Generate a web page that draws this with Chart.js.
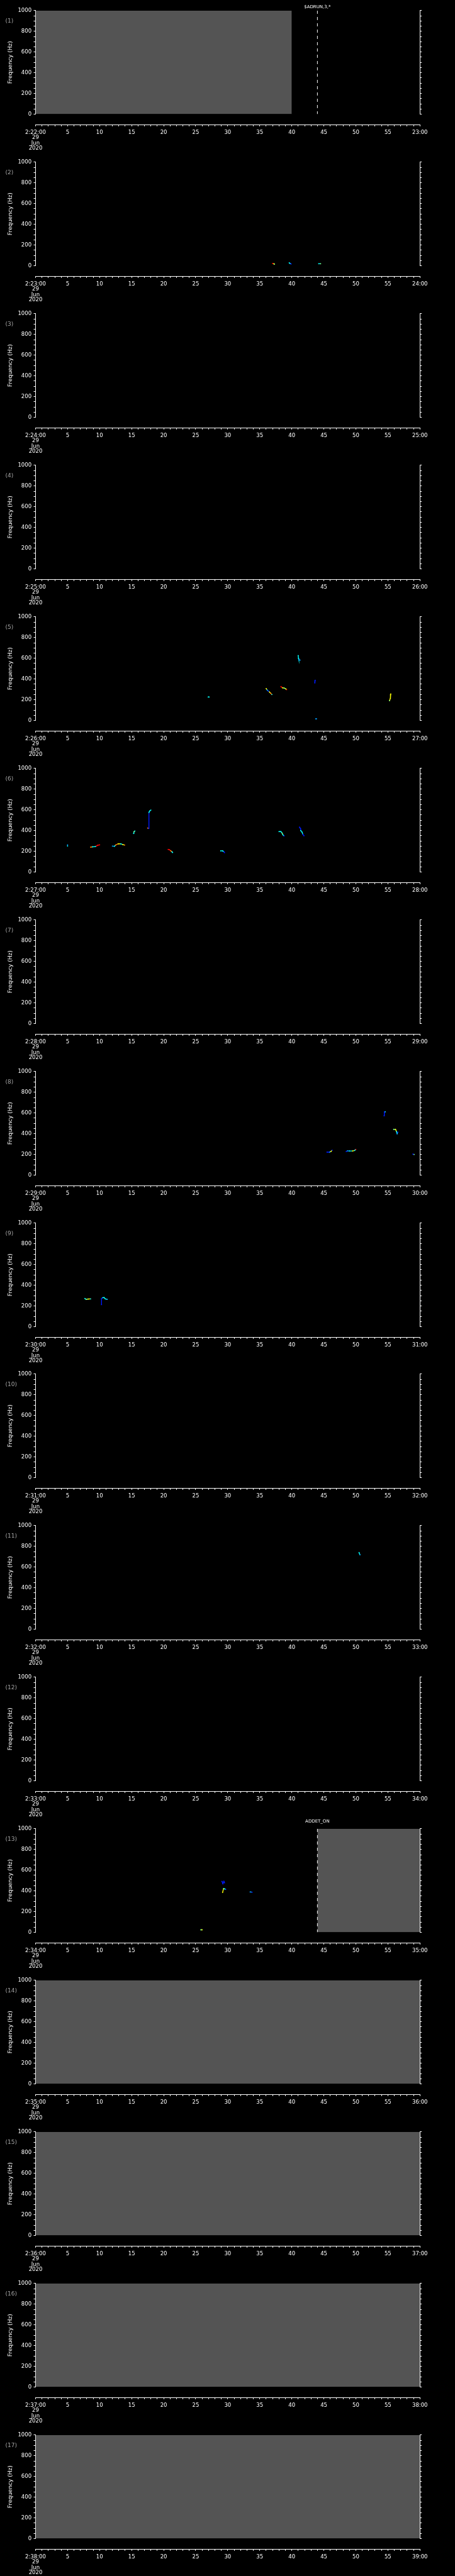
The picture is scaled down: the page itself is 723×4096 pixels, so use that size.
<!DOCTYPE html>
<html>
<head>
<meta charset="utf-8">
<script src="https://cdn.jsdelivr.net/npm/chart.js@4.4.1/dist/chart.umd.min.js"></script>
<style>
html, body { margin: 0; padding: 0; background: #000; }
#wrap { position: relative; width: 723px; height: 4096px; overflow: hidden; }
.panel { position: absolute; left: 0; width: 723px; height: 241px; }
</style>
</head>
<body>
<div id="wrap"></div>
<script>
// one panel per minute, 29 Jun 2020
const panelStarts = ['2:22:00', '2:23:00', '2:24:00', '2:25:00', '2:26:00', '2:27:00', '2:28:00', '2:29:00', '2:30:00',
                     '2:31:00', '2:32:00', '2:33:00', '2:34:00', '2:35:00', '2:36:00', '2:37:00', '2:38:00'];
const panelEnds = ['23:00', '24:00', '25:00', '26:00', '27:00', '28:00', '29:00', '30:00', '31:00',
                   '32:00', '33:00', '34:00', '35:00', '36:00', '37:00', '38:00', '39:00'];
const panelDate = ['29', 'Jun', '2020'];
const freqMin = 0;
const freqMax = 1000;

// seconds with no recording (grey)
const noData = [[0, 40], null, null, null, null, null, null, null, null,
                null, null, null, [44, 60], [0, 60], [0, 60], [0, 60], [0, 60]];

// event markers
const eventPanel = [0, 12];
const eventTime = [44, 44];
const eventText = ['$ADRUN,3,*', 'ADDET_ON'];

// detected tracks: [second, Hz, level 0..1]
const tracks = [
  [],
  [
    [[37.0, 22, 0.87], [37.2, 18, 0.62], [37.3, 15, 0.5]],
    [[39.6, 27, 0.38], [39.75, 20, 0.28], [39.9, 17, 0.15]],
    [[44.2, 19, 0.38], [44.5, 19, 0.5]]
  ],
  [],
  [],
  [
    [[26.95, 226, 0.38], [27.1, 226, 0.38]],
    [[36.0, 308, 0.62], [36.15, 295, 0.28], [36.35, 282, 0.15], [36.5, 275, 0.62], [36.7, 262, 0.75], [36.9, 250, 0.38]],
    [[38.3, 327, 0.87], [38.55, 315, 0.62], [38.8, 313, 0.5], [39.05, 305, 0.62], [39.2, 297, 0.87]],
    [[41.0, 627, 0.38], [41.05, 600, 0.38], [41.1, 585, 0.28], [41.3, 583, 0.28]],
    [[43.65, 388, 0.15], [43.6, 362, 0.15]],
    [[43.75, 15, 0.28], [43.85, 15, 0.28]],
    [[55.45, 255, 0.62], [55.4, 215, 0.62], [55.25, 190, 0.5]]
  ],
  [
    [[5.0, 262, 0.28], [5.0, 250, 0.38]],
    [[8.6, 240, 0.75], [8.9, 243, 0.38], [9.3, 245, 0.38], [9.5, 250, 0.87], [9.7, 258, 0.87], [10.0, 262, 0.87]],
    [[12.0, 250, 0.28], [12.3, 248, 0.38], [12.5, 260, 0.75], [12.9, 272, 0.62], [13.3, 272, 0.38], [13.6, 265, 0.62], [13.9, 260, 0.75]],
    [[15.3, 372, 0.38], [15.35, 388, 0.5], [15.5, 395, 0.38]],
    [[17.5, 425, 0.75], [17.65, 420, 0.15], [17.7, 575, 0.38], [17.8, 588, 0.38], [18.0, 598, 0.38]],
    [[20.7, 218, 0.87], [20.9, 215, 0.87], [21.1, 205, 0.75], [21.3, 195, 0.38], [21.4, 188, 0.38]],
    [[28.9, 204, 0.38], [29.2, 204, 0.38], [29.4, 195, 0.15], [29.5, 187, 0.15]],
    [[38.0, 390, 0.38], [38.3, 390, 0.38], [38.5, 375, 0.5], [38.6, 360, 0.38], [38.8, 348, 0.15]],
    [[41.2, 433, 0.15], [41.35, 420, 0.15], [41.4, 400, 0.38], [41.6, 385, 0.38], [41.75, 362, 0.15], [41.9, 350, 0.15]]
  ],
  [],
  [
    [[45.5, 222, 0.15], [45.9, 222, 0.28], [46.1, 228, 0.62], [46.3, 240, 0.15]],
    [[48.5, 228, 0.15], [48.7, 234, 0.28], [49.0, 233, 0.38], [49.5, 233, 0.62], [49.8, 238, 0.38], [50.0, 248, 0.87]],
    [[54.4, 573, 0.15], [54.45, 610, 0.15], [54.6, 612, 0.38]],
    [[55.9, 442, 0.5], [56.2, 442, 0.62], [56.35, 420, 0.38], [56.45, 398, 0.28], [56.55, 415, 0.15]],
    [[58.9, 203, 0.15], [59.1, 199, 0.5]]
  ],
  [
    [[7.7, 272, 0.38], [7.9, 263, 0.5], [8.2, 267, 0.62], [8.6, 268, 0.38]],
    [[10.3, 213, 0.15], [10.3, 272, 0.15], [10.5, 280, 0.38], [10.7, 281, 0.38], [10.9, 268, 0.38], [11.2, 264, 0.28]]
  ],
  [],
  [
    [[50.5, 740, 0.38], [50.65, 718, 0.28]]
  ],
  [],
  [
    [[25.8, 24, 0.5], [26.0, 24, 0.62]],
    [[29.1, 492, 0.15], [29.25, 470, 0.15], [29.4, 492, 0.15], [29.5, 478, 0.15]],
    [[29.2, 385, 0.62], [29.35, 423, 0.5], [29.5, 420, 0.38], [29.7, 414, 0.15]],
    [[33.5, 390, 0.28], [33.8, 388, 0.15]]
  ],
  [],
  [],
  [],
  []
];

const S = 723 / 1024;
const PANEL_H = 4096 / 17;
const FONT = "'DejaVu Sans', sans-serif";
const eventLift = [5.8, 12.1];

function jet(v) {
  const c = t => Math.round(255 * Math.min(1, Math.max(0, t)));
  return 'rgb(' + c(1.5 - Math.abs(4 * v - 3)) + ',' + c(1.5 - Math.abs(4 * v - 2)) + ',' + c(1.5 - Math.abs(4 * v - 1)) + ')';
}

const panelText = {
  id: 'panelText',
  afterDraw(chart, args, opts) {
    const ctx = chart.ctx;
    const i = opts.index;
    ctx.save();
    ctx.fillStyle = '#a4a4a4';
    ctx.font = '9px ' + FONT;
    ctx.textAlign = 'left';
    ctx.textBaseline = 'middle';
    ctx.fillText('(' + (i + 1) + ')', 12 * S, 47 * S);
    ctx.fillStyle = '#fff';
    ctx.font = '7px ' + FONT;
    ctx.textAlign = 'center';
    eventPanel.forEach((p, k) => {
      if (p !== i) return;
      const x = chart.scales.x.getPixelForValue(eventTime[k]);
      ctx.fillText(eventText[k], x, chart.chartArea.top - eventLift[k]);
    });
    ctx.restore();
  }
};

const wrap = document.getElementById('wrap');

panelStarts.forEach((start, i) => {
  const div = document.createElement('div');
  div.className = 'panel';
  div.style.top = (i * PANEL_H) + 'px';
  const canvas = document.createElement('canvas');
  div.appendChild(canvas);
  wrap.appendChild(div);

  const datasets = [];
  if (noData[i]) {
    datasets.push({
      data: [{x: noData[i][0], y: freqMax}, {x: noData[i][1], y: freqMax}],
      fill: 'origin',
      backgroundColor: '#545454',
      borderWidth: 0,
      pointRadius: 0,
      order: 10
    });
  }
  tracks[i].forEach(tr => {
    datasets.push({
      data: tr.map(p => ({x: p[0], y: p[1]})),
      borderColor: jet(tr[0][2]),
      segment: { borderColor: c => jet(tr[c.p0DataIndex][2]) },
      pointBackgroundColor: tr.map(p => jet(p[2])),
      pointBorderWidth: 0,
      pointRadius: 0.9,
      borderWidth: 1.4,
      order: 5
    });
  });
  eventPanel.forEach((p, k) => {
    if (p !== i) return;
    datasets.push({
      data: [{x: eventTime[k], y: freqMax}, {x: eventTime[k], y: freqMin}],
      borderColor: '#fff',
      borderWidth: 1,
      borderDash: [5, 5],
      pointRadius: 0,
      order: 0
    });
  });

  new Chart(canvas, {
    type: 'line',
    data: { datasets },
    options: {
      responsive: true,
      maintainAspectRatio: false,
      animation: false,
      events: [],
      layout: { padding: { top: 24 * S, left: 0, right: 0, bottom: 0 } },
      plugins: {
        legend: { display: false },
        tooltip: { enabled: false },
        panelText: { index: i }
      },
      scales: {
        x: {
          type: 'linear',
          position: 'bottom',
          weight: 1,
          min: 0,
          max: 60,
          afterFit: s => { s.height = s.chart.height - 281 * S; },
          border: { display: true, color: '#fff', width: 1 },
          grid: { display: true, drawOnChartArea: false, drawTicks: true, tickLength: 2.5, color: '#fff' },
          ticks: {
            stepSize: 1,
            maxTicksLimit: 100,
            autoSkip: false,
            maxRotation: 0,
            minRotation: 0,
            padding: 5.2,
            color: '#fff',
            font: { family: FONT, size: 8.5, lineHeight: 1 },
            callback: v => {
              if (v === 0) return [start].concat(panelDate);
              if (v === 60) return panelEnds[i];
              return v % 5 === 0 ? String(v) : '';
            }
          }
        },
        xg: {
          type: 'linear',
          position: 'bottom',
          weight: 0,
          min: 0,
          max: 60,
          afterFit: s => { s.height = (281 - 257) * S; },
          border: { display: false },
          grid: { display: false },
          ticks: { display: false }
        },
        y: {
          type: 'linear',
          position: 'left',
          min: freqMin,
          max: freqMax,
          afterFit: s => { s.width = 80 * S; },
          border: { display: true, color: '#fff', width: 1 },
          grid: { display: true, drawOnChartArea: false, drawTicks: true, tickLength: 3, color: '#fff' },
          ticks: {
            stepSize: 50,
            maxTicksLimit: 100,
            autoSkip: false,
            padding: 3.4,
            color: '#fff',
            font: { family: FONT, size: 8.5 },
            callback: v => v % 200 === 0 ? String(v) : ''
          },
          title: {
            display: true,
            text: 'Frequency (Hz)',
            color: '#fff',
            font: { family: FONT, size: 9 },
            padding: { top: 10.8, bottom: 0 }
          }
        },
        yr: {
          type: 'linear',
          position: 'right',
          min: freqMin,
          max: freqMax,
          afterFit: s => { s.width = 723 - 945 * S; },
          border: { display: true, color: '#fff', width: 1 },
          grid: { display: true, drawOnChartArea: false, drawTicks: true, tickLength: 3, color: '#fff' },
          ticks: { display: false, stepSize: 50, maxTicksLimit: 100, autoSkip: false }
        }
      }
    },
    plugins: [panelText]
  });
});
</script>
</body>
</html>
